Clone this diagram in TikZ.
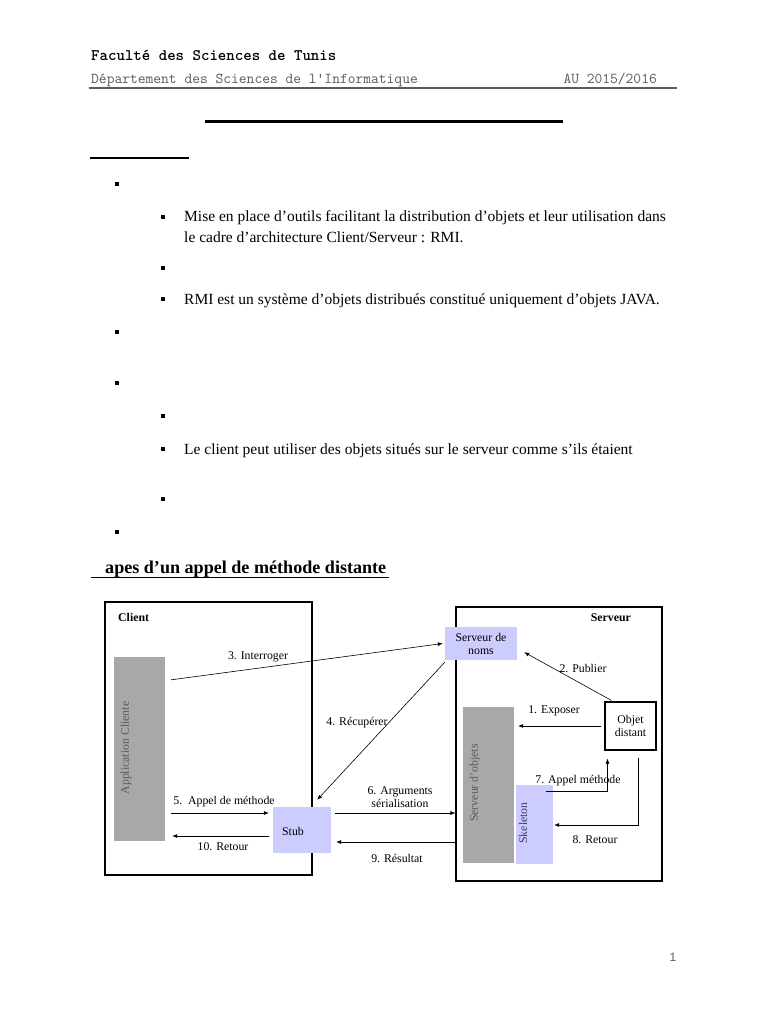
\documentclass[tikz,border=0pt]{standalone}
\usepackage{fontspec}
\setmainfont{Liberation Serif}
\newfontfamily\pgfont{Liberation Sans}
\usetikzlibrary{arrows.meta,calc}
\definecolor{lav}{RGB}{204,204,255}
\definecolor{boxgray}{RGB}{168,168,168}
\definecolor{hdrgray}{RGB}{90,90,90}
\begin{document}
\begin{tikzpicture}[x=1pt,y=-1pt,
  bodytext/.style={anchor=base west,inner sep=0,font=\fontsize{15.5}{18}\selectfont},
  bul/.style={fill=black,minimum size=4pt,inner sep=0,draw=none},
  frame/.style={draw,line width=1.1pt,inner sep=0},
  lavbox/.style={fill=lav,draw=none,inner sep=0},
  graybox/.style={fill=boxgray,draw=none,inner sep=0},
  lbl/.style={inner sep=0,font=\fontsize{11.8}{13}\selectfont},
  arr/.style={-{Latex[length=5pt,width=4pt]},line width=0.6pt}]
\useasboundingbox (0,0) rectangle (768,1024);
\fill[white] (0,0) rectangle (768,1024);

% header
\node[anchor=base west,inner sep=0,font=\ttfamily\bfseries\fontsize{16.1}{18}\selectfont] (fac) at (91,61) {Faculté des Sciences de Tunis};
\node[anchor=base west,inner sep=0,text=hdrgray,font=\ttfamily\fontsize{15.1}{16}\selectfont] (dep) at (91,84) {Département des Sciences de l'Informatique};
\node[anchor=base east,inner sep=0,text=hdrgray,font=\ttfamily\fontsize{15.1}{16}\selectfont] (au) at (657,84) {AU 2015/2016};
\draw[hdrgray,line width=2pt] (89,88) -- (677,88);
\draw[line width=3pt] (205,121.5) -- (563,121.5);
\draw[line width=1.8pt] (90,158) -- (189,158);

% bullets
\node[bul] (b1) at (117,184) {};
\node[bul] (b2) at (163,217) {};
\node[bul] (b3) at (163,268) {};
\node[bul] (b4) at (163,299) {};
\node[bul] (b5) at (117,332) {};
\node[bul] (b6) at (117,383) {};
\node[bul] (b7) at (163,416) {};
\node[bul] (b8) at (163,449) {};
\node[bul] (b9) at (163,499) {};
\node[bul] (b10) at (117,532) {};

\node[bodytext] (t1) at (184,222) {Mise en place d’outils facilitant la distribution d’objets et leur utilisation dans};
\node[bodytext] (t2) at (184,242) {le cadre d’architecture Client/Serveur : RMI.};
\node[bodytext] (t3) at (184,304) {RMI est un système d’objets distribués constitué uniquement d’objets JAVA.};
\node[bodytext] (t4) at (184,454) {Le client peut utiliser des objets situés sur le serveur comme s’ils étaient};

\node[anchor=base west,inner sep=0,font=\bfseries\fontsize{18.1}{20}\selectfont] (title) at (105,573) {apes d’un appel de méthode distante};
\draw[line width=1.6pt] (91,577.5) -- (389,577.5);

% diagram boxes
\node[frame,minimum width=207pt,minimum height=273pt] (cli) at (208.5,738.5) {};
\node[frame,minimum width=206pt,minimum height=274pt] (srv) at (559,744) {};
\node[anchor=base west,inner sep=0,font=\bfseries\fontsize{11.8}{13}\selectfont] (clit) at (118,621) {Client};
\node[anchor=base east,inner sep=0,font=\bfseries\fontsize{11.8}{13}\selectfont] (srvt) at (631,621) {Serveur};

\node[graybox,minimum width=51pt,minimum height=184pt] (app) at (139.5,749) {};
\node[lbl,rotate=90,text=hdrgray] (appt) at (126,748) {Application Cliente};
\node[lavbox,minimum width=58pt,minimum height=46pt] (stub) at (302,830) {};
\node[lbl] (stubt) at (293,831) {Stub};
\node[lavbox,minimum width=72pt,minimum height=33pt,align=center,font=\fontsize{11.8}{13}\selectfont] (sdn) at (481,643.5) {Serveur de\\noms};
\node[draw,line width=1.1pt,minimum width=51pt,minimum height=48pt,inner sep=0,align=center,font=\fontsize{11.8}{13}\selectfont] (od) at (630.5,726) {Objet\\distant};
\node[graybox,minimum width=51pt,minimum height=156pt] (sdo) at (488.5,785) {};
\node[lbl,rotate=90,text=hdrgray] (sdot) at (475,783) {Serveur d’objets};
\node[lavbox,minimum width=37pt,minimum height=79pt] (skel) at (534.5,824.5) {};
\node[lbl,rotate=90,text={rgb,255:red,60;green,60;blue,100}] (skelt) at (523,823) {Skeleton};

% connectors
\draw[arr] ($(app.north east)+(6,23)$) -- ([xshift=-2pt]sdn.west);
\node[lbl] (l3) at (258,657) {3. Interroger};
\draw[arr] ($(od.north west)+(7,-1)$) -- ($(sdn.south east)+(7,-8)$);
\node[lbl] (l2) at (583,668) {2. Publier};
\draw[arr] ([xshift=-3pt]od.west) -- ([xshift=4pt]od.west -| sdo.east);
\node[lbl] (l1) at (554,711) {1. Exposer};
\draw[arr] ($(sdn.south west)+(0,2)$) -- ($(stub.north east)+(-14,-7)$);
\node[lbl] (l4) at (357,723) {4. Récupérer};
\draw[arr] ($(app.east)+(6,64)$) -- ($(stub.west)+(-4,-17)$);
\node[lbl] (l5) at (224,802) {5.\ \ Appel de méthode};
\draw[arr] ($(stub.west)+(-4,6)$) -- ($(app.east)+(7,87)$);
\node[lbl] (l10) at (223,847) {10. Retour};
\draw[arr] ($(stub.east)+(4,-17)$) -- ($(stub.east -| srv.west)+(0,-17)$);
\node[lbl,align=center] (l6) at (400,797) {6. Arguments\\sérialisation};
\draw[arr] ($(stub.east -| srv.west)+(0,12)$) -- ($(stub.east)+(5,12)$);
\node[lbl] (l9) at (397,858) {9. Résultat};
\draw[arr] ($(skel.north east)+(-7,6)$) -| ($(od.south west)+(3,8)$);
\node[lbl] (l7) at (578,781) {7. Appel méthode};
\draw[arr] ($(od.south east)+(-18,7)$) |- ($(skel.east)+(1,0.5)$);
\node[lbl] (l8) at (595,840) {8. Retour};

\node[anchor=base,inner sep=0,font=\pgfont\fontsize{12}{14}\selectfont,text=hdrgray] (pg) at (673,961) {1};
\end{tikzpicture}
\end{document}
